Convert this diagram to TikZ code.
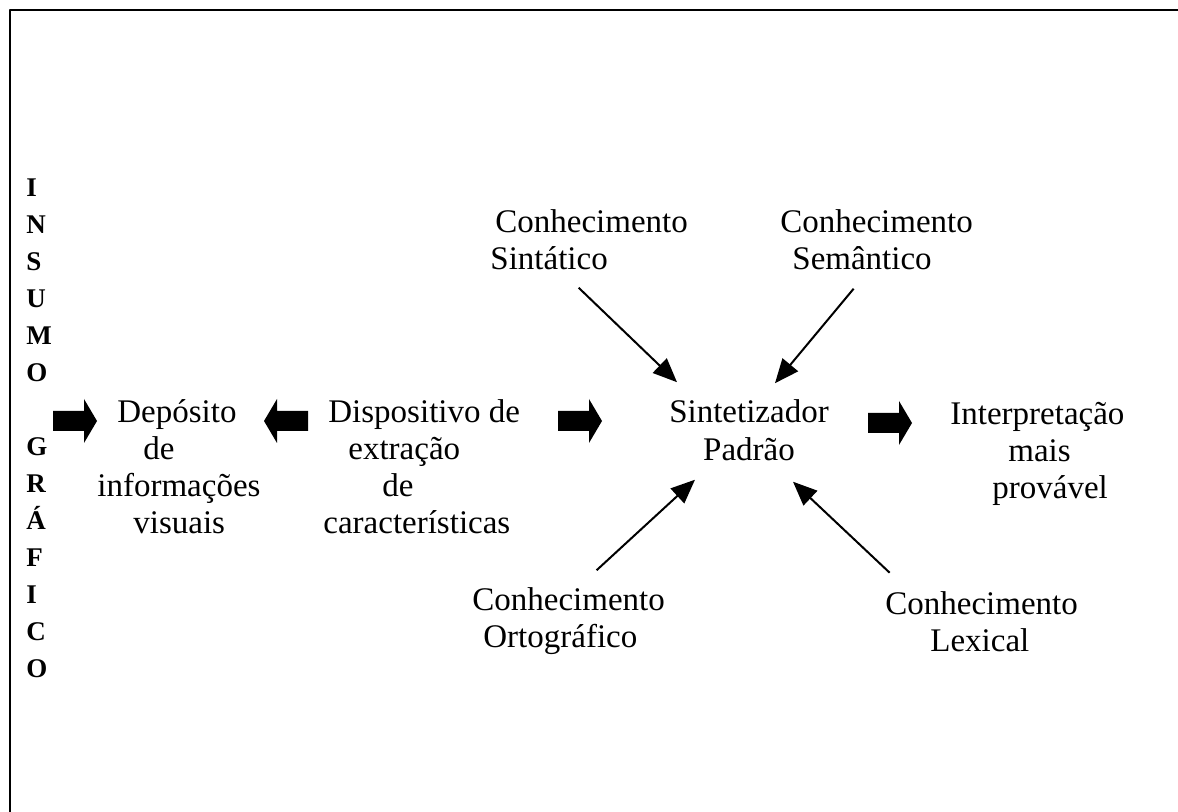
\documentclass[tikz,border=0pt]{standalone}
\usepackage{fontspec}
\setmainfont{Liberation Serif}
\usetikzlibrary{arrows.meta}
\tikzset{
	rotulo/.style={inner sep=0pt, align=left, anchor=base west, font=\fontsize{16.5}{18.5}\selectfont},
	conhece/.style={-{Triangle[length=12pt,width=10pt]}, line width=1pt},
	setao/.pic={\fill (0,-10) -- (31,-10) -- (31,-22) -- (44,0) -- (31,22) -- (31,10) -- (0,10) -- cycle;}
}
\begin{document}
\begin{tikzpicture}[x=0.5pt, y=-0.5pt, line join=round]
	\useasboundingbox (0,0) rectangle (1178,812);
	% Moldura: so topo e lado esquerdo
	\draw[line width=1.2pt] (10,812) -- (10,10) -- (1178,10);
	% Coluna vertical em negrito (base = ultima linha)
	\node[rotulo, font=\fontsize{13.5}{18.5}\selectfont\bfseries] (insumo) at (26,677)
		{I\\N\\S\\U\\M\\O\\[18.5pt]G\\R\\Á\\F\\I\\C\\O};
	% Linha principal
	\node[rotulo] (deposito) at (97,533)
		{\hspace*{10pt}Depósito\\\hspace*{23pt}de\\informações\\\hspace*{18pt}visuais};
	\node[rotulo] (dispositivo) at (323,533)
		{\hspace*{2.5pt}Dispositivo de\\\hspace*{12.5pt}extração\\\hspace*{29.5pt}de\\características};
	\node[rotulo, anchor=base, align=center] (sintetizador) at (749,460) {Sintetizador\\Padrão};
	\node[rotulo] (interpretacao) at (950,499)
		{Interpretação\\\hspace*{29pt}mais\\\hspace*{21pt}provável};
	% Setas largas
	\pic at (53,421) {setao};
	\pic[rotate=180] at (308,421) {setao};
	\pic at (558,421) {setao};
	\pic at (868,423) {setao};
	% Fontes de conhecimento
	\node[rotulo] (sintatico) at (490,270) {\hspace*{2.5pt}Conhecimento\\Sintático};
	\node[rotulo] (semantico) at (780,270) {Conhecimento\\\hspace*{6pt}Semântico};
	\node[rotulo] (ortografico) at (472,647) {Conhecimento\\\hspace*{5.5pt}Ortográfico};
	\node[rotulo] (lexical) at (885,651) {Conhecimento\\\hspace*{22.5pt}Lexical};
	% Setas finas para o sintetizador
	\draw[conhece] ([shift={(-10.5,17)}]sintatico.south) -- ([shift={(-72,-17.5)}]sintetizador.north);
	\draw[conhece] ([shift={(-23,18)}]semantico.south) -- ([shift={(26,-16.5)}]sintetizador.north);
	\draw[conhece] ([shift={(28,-16.5)}]ortografico.north) -- ([shift={(-54,19)}]sintetizador.south);
	\draw[conhece] ([shift={(-92,-18)}]lexical.north) -- ([shift={(44,21)}]sintetizador.south);
\end{tikzpicture}
\end{document}
